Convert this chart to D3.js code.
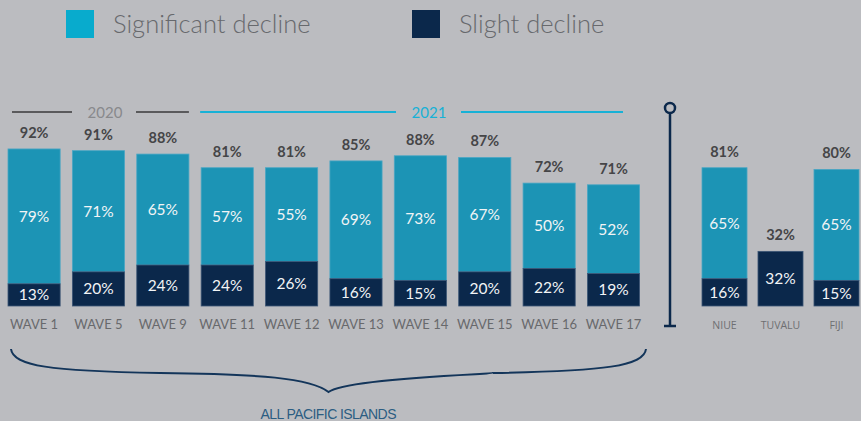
<!DOCTYPE html>
<html>
<head>
<meta charset="utf-8">
<script src="https://cdn.jsdelivr.net/npm/d3@7"></script>
<style>
  body { margin: 0; background: #bbbcc0; }
  svg { display: block; }
</style>
</head>
<body>
<div id="chart"></div>
<script>
// data
var waves = ["WAVE 1", "WAVE 5", "WAVE 9", "WAVE 11", "WAVE 12", "WAVE 13", "WAVE 14", "WAVE 15", "WAVE 16", "WAVE 17"];
var waveSignificant = [79, 71, 65, 57, 55, 69, 73, 67, 50, 52];
var waveSlight = [13, 20, 24, 24, 26, 16, 15, 20, 22, 19];
var waveTotal = [92, 91, 88, 81, 81, 85, 88, 87, 72, 71];

var countries = ["NIUE", "TUVALU", "FIJI"];
var countrySignificant = [65, 0, 65];
var countrySlight = [16, 32, 15];
var countryTotal = [81, 32, 80];

var seriesNames = ["Significant decline", "Slight decline"];

var width = 861,
  height = 421;

var cyan = "#1c94b5",
  navy = "#0b284b",
  legendCyan = "#08abcd";

var svg = d3.select("#chart").append("svg")
  .attr("width", width)
  .attr("height", height);

svg.append("rect").attr("width", width).attr("height", height).attr("fill", "#bbbcc0");

// scales
var y = d3.scaleLinear().domain([0, 100]).range([306, 135.3]);

var xWave = d3.scaleBand()
  .domain(waves)
  .range([8, 639.6])
  .paddingInner(0.19)
  .paddingOuter(0);

var xCountry = d3.scaleBand()
  .domain(countries)
  .range([702, 859])
  .paddingInner(0.196)
  .paddingOuter(0);

// legend
var legend = svg.append("g");
var legendX = [66, 412];
legend.selectAll("rect")
  .data(seriesNames)
  .enter().append("rect")
  .attr("x", function(d, i) { return legendX[i]; })
  .attr("y", 10)
  .attr("width", 28)
  .attr("height", 28)
  .attr("fill", function(d, i) { return i == 0 ? legendCyan : navy; });
legend.selectAll("text")
  .data(seriesNames)
  .enter().append("text")
  .attr("x", function(d, i) { return legendX[i] + 47; })
  .attr("y", 33)
  .attr("font-family", "Lato, sans-serif")
  .attr("font-weight", 300)
  .attr("font-size", 25.5)
  .attr("fill", "#67696d")
  .text(function(d) { return d; });

// year headers
var yearLine = 112;
svg.append("line").attr("x1", 12).attr("x2", 72).attr("y1", yearLine).attr("y2", yearLine)
  .attr("stroke", "#5a5a5c").attr("stroke-width", 2);
svg.append("line").attr("x1", 136).attr("x2", xWave("WAVE 9") + xWave.bandwidth()).attr("y1", yearLine).attr("y2", yearLine)
  .attr("stroke", "#5a5a5c").attr("stroke-width", 2);
svg.append("text").attr("x", 105).attr("y", yearLine + 5.5).attr("text-anchor", "middle")
  .attr("font-family", "Lato, sans-serif").attr("font-size", 15).attr("fill", "#88898c").text("2020");

svg.append("line").attr("x1", xWave("WAVE 11") - 1).attr("x2", 396).attr("y1", yearLine).attr("y2", yearLine)
  .attr("stroke", "#17b1d6").attr("stroke-width", 2);
svg.append("line").attr("x1", 461).attr("x2", 623).attr("y1", yearLine).attr("y2", yearLine)
  .attr("stroke", "#17b1d6").attr("stroke-width", 2);
svg.append("text").attr("x", 429).attr("y", yearLine + 5.5).attr("text-anchor", "middle")
  .attr("font-family", "Lato, sans-serif").attr("font-size", 15).attr("fill", "#17b1d6").text("2021");

// draw a group of stacked bars
function drawBars(cats, sig, slight, total, x, catFont) {
  var rows = cats.map(function(c, i) {
    return { cat: c, sig: sig[i], slight: slight[i], total: total[i] };
  });
  var g = svg.append("g");
  var bars = g.selectAll("g.bar").data(rows).enter().append("g").attr("class", "bar");

  bars.filter(function(d) { return d.sig > 0; }).append("rect")
    .attr("x", function(d) { return x(d.cat); })
    .attr("y", function(d) { return y(d.slight + d.sig); })
    .attr("width", x.bandwidth())
    .attr("height", function(d) { return y(d.slight) - y(d.slight + d.sig); })
    .attr("fill", cyan)
    .attr("stroke", "#4aa6c4").attr("stroke-width", 0.8);

  bars.append("rect")
    .attr("x", function(d) { return x(d.cat); })
    .attr("y", function(d) { return y(d.slight); })
    .attr("width", x.bandwidth())
    .attr("height", function(d) { return y(0) - y(d.slight); })
    .attr("fill", navy)
    .attr("stroke", "#3c5676").attr("stroke-width", 0.8);

  // inside labels
  bars.filter(function(d) { return d.sig > 0; }).append("text")
    .attr("x", function(d) { return x(d.cat) + x.bandwidth() / 2; })
    .attr("y", function(d) { return (y(d.slight) + y(d.slight + d.sig)) / 2 + 5.5; })
    .attr("text-anchor", "middle")
    .attr("font-family", "Lato, sans-serif").attr("font-size", 15.5)
    .attr("fill", "#f2f4f6")
    .text(function(d) { return d.sig + "%"; });

  bars.append("text")
    .attr("x", function(d) { return x(d.cat) + x.bandwidth() / 2; })
    .attr("y", function(d) { return (y(0) + y(d.slight)) / 2 + 5.5; })
    .attr("text-anchor", "middle")
    .attr("font-family", "Lato, sans-serif").attr("font-size", 15.5)
    .attr("fill", "#f2f4f6")
    .text(function(d) { return d.slight + "%"; });

  // totals
  bars.append("text")
    .attr("x", function(d) { return x(d.cat) + x.bandwidth() / 2; })
    .attr("y", function(d) { return y(Math.max(d.total, d.slight + d.sig)) - 11; })
    .attr("text-anchor", "middle")
    .attr("font-family", "Lato, sans-serif").attr("font-weight", "bold").attr("font-size", 14.5)
    .attr("fill", "#454547")
    .text(function(d) { return d.total + "%"; });

  // category labels
  bars.append("text")
    .attr("x", function(d) { return x(d.cat) + x.bandwidth() / 2; })
    .attr("y", 328.5)
    .attr("text-anchor", "middle")
    .attr("font-family", catFont.family).attr("font-size", catFont.size)
    .attr("fill", catFont.color)
    .text(function(d) { return d.cat; });
}

drawBars(waves, waveSignificant, waveSlight, waveTotal, xWave,
  { family: "Lato, sans-serif", size: 13, color: "#68696c" });
drawBars(countries, countrySignificant, countrySlight, countryTotal, xCountry,
  { family: "'Open Sans', sans-serif", size: 10.5, color: "#6e6f72" });

// divider between waves and countries
svg.append("line").attr("x1", 670).attr("x2", 670).attr("y1", 113).attr("y2", 326)
  .attr("stroke", navy).attr("stroke-width", 2.5);
svg.append("line").attr("x1", 664).attr("x2", 676).attr("y1", 326).attr("y2", 326)
  .attr("stroke", navy).attr("stroke-width", 2.5);
svg.append("circle").attr("cx", 670).attr("cy", 108).attr("r", 5)
  .attr("fill", "#bbbcc0").attr("stroke", navy).attr("stroke-width", 2.5);

// brace under the waves
var bx0 = 11, bx1 = 646, bmid = (bx0 + bx1) / 2;
svg.append("path")
  .attr("d", "M" + bx0 + ",349 C" + (bx0 + 2) + ",366 50,371 160,373 C260,374 " + (bmid - 18) + ",378 " + bmid + ",392"
    + " C" + (bmid + 18) + ",378 " + (bx1 - 153) + ",374 " + (bx1 - 153) + ",373 C" + (bx1 - 40) + ",371 " + (bx1 - 2) + ",366 " + bx1 + ",349")
  .attr("fill", "none")
  .attr("stroke", "#13355a")
  .attr("stroke-width", 2);

svg.append("text")
  .attr("x", bmid).attr("y", 419)
  .attr("text-anchor", "middle")
  .attr("font-family", "'Liberation Sans Narrow', 'Liberation Sans', sans-serif")
  .attr("font-size", 14)
  .attr("textLength", 136)
  .attr("fill", "#2b5d82")
  .text("ALL PACIFIC ISLANDS");
</script>
</body>
</html>
